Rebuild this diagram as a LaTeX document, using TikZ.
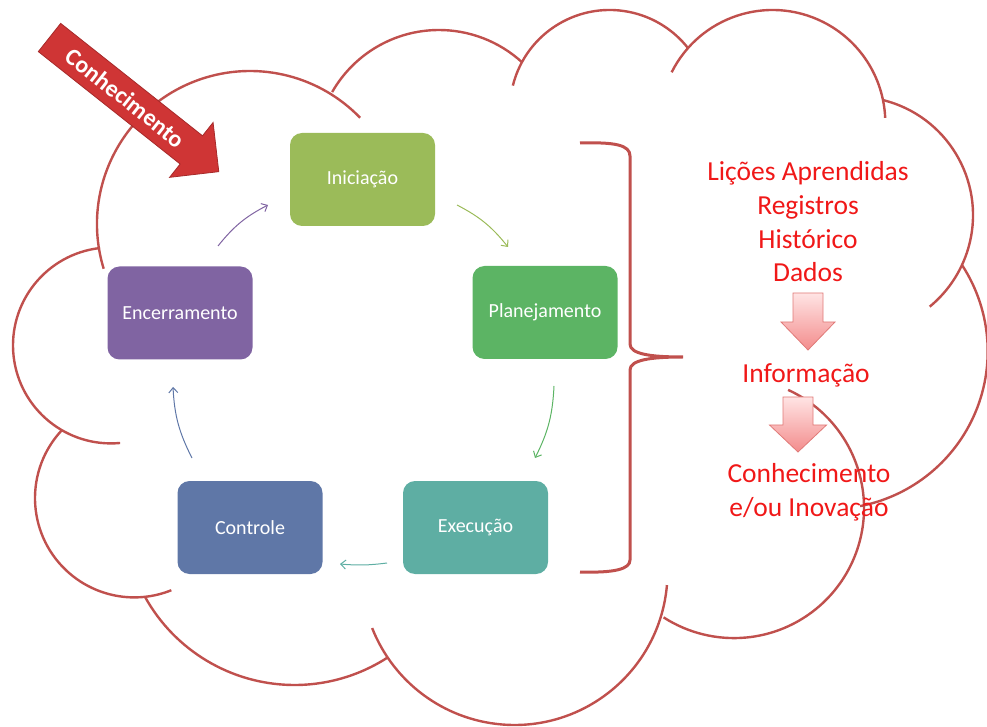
\documentclass[tikz,border=0pt]{standalone}
\usepackage{fontspec}
\setmainfont{Carlito}
\usetikzlibrary{arrows.meta}
\definecolor{cloudred}{HTML}{C0504D}
\definecolor{inicol}{HTML}{9BBB59}
\definecolor{plancol}{HTML}{5CB464}
\definecolor{execol}{HTML}{5EAEA3}
\definecolor{ctrlcol}{HTML}{5F77A7}
\definecolor{enccol}{HTML}{8064A2}
\definecolor{bigred}{HTML}{CF3535}
\definecolor{txtred}{HTML}{F01818}
\definecolor{pinktop}{HTML}{FFE4E4}
\definecolor{pinkbot}{HTML}{F38C8C}
\definecolor{pinkedge}{HTML}{E07A78}
\newcommand\cloudarc[5]{\draw[cloudline] (#1,#2) ++(#4:#3pt) arc[start angle=#4,end angle=#5,radius=#3pt];}
\tikzset{
  cloudline/.style={draw=cloudred, line width=2.4pt},
  stage/.style={rounded corners=12pt, minimum width=145pt, minimum height=93pt,
    text=white, font=\fontsize{20}{24}\selectfont, inner sep=0pt},
  cyc/.style={line width=1pt, -{Straight Barb[length=5pt,width=9pt]}},
  redtext/.style={text=txtred, align=center, font=\fontsize{27.5}{33.7}\selectfont, inner sep=0pt},
  downarrow/.style={draw=pinkedge, line width=0.8pt, top color=pinktop, bottom color=pinkbot},
  bracket/.style={draw=cloudred, line width=3pt}
}
\begin{document}
\begin{tikzpicture}[x=1pt,y=1pt]
\useasboundingbox (0,0) rectangle (987,726);
\clip (0,0) rectangle (987,726);

% cloud
\cloudarc{250}{502}{153}{197}{44}
\cloudarc{439}{573}{123}{150.3}{47.6}
\cloudarc{609.6}{616.3}{99.7}{166}{38.2}
\cloudarc{772.5}{603.2}{112.8}{153.4}{2.5}
\cloudarc{854.5}{510.9}{118.5}{76.1}{-50.6}
\cloudarc{830}{374.7}{157.7}{33.2}{-79}
\cloudarc{734}{217.9}{130}{65.4}{-122.8}
\cloudarc{514.5}{154}{153}{-4.9}{-158.5}
\cloudarc{294.6}{212}{171}{-151}{-57.3}
\cloudarc{134.3}{227.9}{99.3}{136.7}{291.9}
\cloudarc{111}{380.6}{98}{96.4}{275.3}

% stages
\node[stage, fill=inicol] (ini) at (362.5,546.5) {Iniciação};
\node[stage, fill=plancol] (plan) at (545,413.5) {Planejamento};
\node[stage, fill=execol] (exe) at (475.5,198.5) {Execução};
\node[stage, fill=ctrlcol] (ctrl) at (250,198.5) {Controle};
\node[stage, fill=enccol] (enc) at (180,413) {Encerramento};

% cycle arrows
\coordinate (a1s) at (457,521); \coordinate (a1e) at (508,479);
\coordinate (a2s) at (554,340); \coordinate (a2e) at (535,268);
\coordinate (a3s) at (387,163); \coordinate (a3e) at (340,162);
\coordinate (a4s) at (192,268); \coordinate (a4e) at (173,339);
\coordinate (a5s) at (218,480); \coordinate (a5e) at (268,521);
\draw[cyc, draw=inicol] (a1s) to[bend left=12] (a1e);
\draw[cyc, draw=plancol] (a2s) to[bend left=12] (a2e);
\draw[cyc, draw=execol] (a3s) to[bend left=6] (a3e);
\draw[cyc, draw=ctrlcol] (a4s) to[bend left=12] (a4e);
\draw[cyc, draw=enccol] (a5s) to[bend left=12] (a5e);

% brace
\draw[bracket] (580,583) .. controls (615,584) and (630,581) .. (630,570)
  -- (630,382) .. controls (630,372) and (650,369) .. (683,369)
  .. controls (650,369) and (630,366) .. (630,356)
  -- (630,166) .. controls (630,157) and (615,153) .. (580,154);

% big arrow
\begin{scope}[shift={(49.5,688.5)}, rotate=-38.4]
\path[fill=bigred, draw=bigred!80!black, line width=0.8pt]
  (0,18) -- (181,18) -- (181,35) -- (216,0) -- (181,-35) -- (181,-18) -- (0,-18) -- cycle;
\node[transform shape, text=white, font=\bfseries\fontsize{24}{28}\selectfont, inner sep=0pt] (know) at (97,0) {Conhecimento};
\end{scope}

% right texts
\node[redtext] (lessons) at (808,504) {Lições Aprendidas\\Registros\\Histórico\\Dados};
\path[downarrow] (793,433) -- (823,433) -- (823,404) -- (835,404) -- (808,376) -- (781,404) -- (793,404) -- cycle;
\node[redtext] (info) at (806,351) {Informação};
\path[downarrow] (783,329) -- (813,329) -- (813,301) -- (826.5,301) -- (798,274) -- (769.5,301) -- (783,301) -- cycle;
\node[redtext] (innov) at (809,234) {Conhecimento\\e/ou Inovação};
\end{tikzpicture}
\end{document}
